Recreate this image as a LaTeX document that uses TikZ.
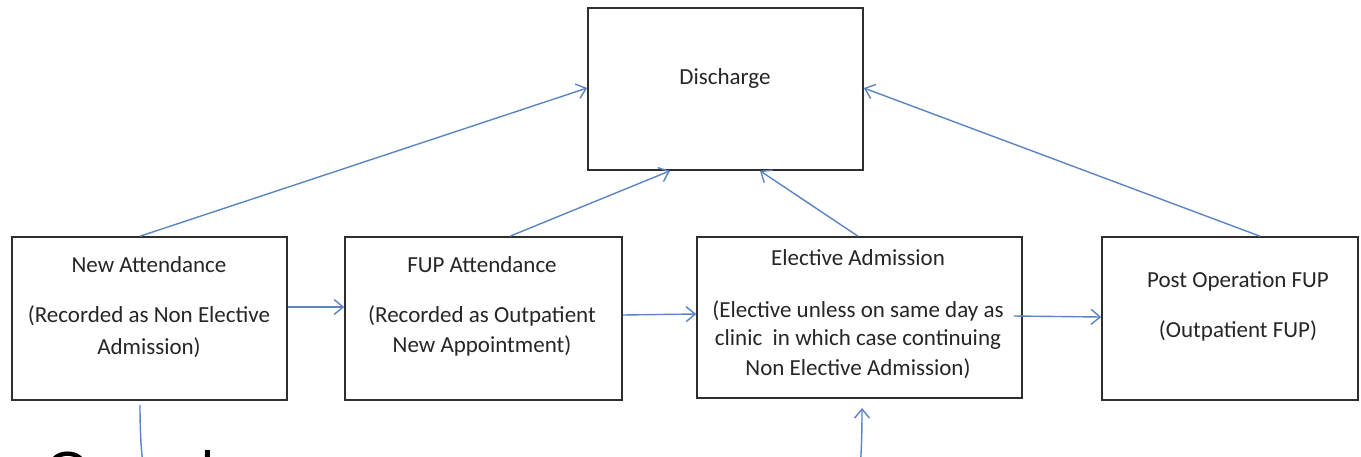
\documentclass[tikz,border=0pt]{standalone}
\usepackage{fontspec}
\setmainfont{Carlito}
\newfontfamily\arialfont{Liberation Sans}
\usetikzlibrary{arrows.meta}
\definecolor{conn}{HTML}{5A84C2}
\definecolor{boxline}{HTML}{2E2E2E}
\definecolor{txt}{HTML}{262626}
\begin{document}
\begin{tikzpicture}[x=1pt,y=1pt,
  box/.style={draw=boxline, line width=1.6pt, fill=white, inner sep=0pt, rectangle},
  lbl/.style={anchor=base, inner sep=0pt, text=txt, font=\fontsize{23}{31}\selectfont},
  arr/.style={draw=conn, line width=1.4pt, -{Straight Barb[length=9pt,width=15pt,line width=1.4pt]}},
  big/.style={anchor=base west, inner sep=0pt, font=\arialfont\fontsize{58}{60}\selectfont}]
\useasboundingbox (0,0) rectangle (1361,-456);
\clip (0,0) rectangle (1361,-456);
% boxes
\node[box, minimum width=275, minimum height=162] (dis) at (725.5,-89) {};
\node[box, minimum width=275, minimum height=163] (na) at (149.5,-318.5) {};
\node[box, minimum width=277, minimum height=163] (fup) at (483.5,-318.5) {};
\node[box, minimum width=325, minimum height=161] (ea) at (859.5,-317.5) {};
\node[box, minimum width=256, minimum height=163] (post) at (1230,-318.5) {};
% texts
\node[lbl] (t0) at (725,-84) {Discharge};
\node[lbl] (t1) at (149,-272) {New Attendance};
\node[lbl] (t2) at (149,-322) {(Recorded as Non Elective};
\node[lbl] (t3) at (149,-354) {Admission)};
\node[lbl] (t4) at (482,-272) {FUP Attendance};
\node[lbl] (t5) at (482,-322) {(Recorded as Outpatient};
\node[lbl] (t6) at (482,-352) {New Appointment)};
\node[lbl] (t7) at (858,-265) {Elective Admission};
\node[lbl] (t8) at (858,-317) {(Elective unless on same day as};
\node[lbl] (t9) at (858,-345) {clinic\ \ in which case continuing};
\node[lbl] (t10) at (858,-375) {Non Elective Admission)};
\node[lbl] (t11) at (1238,-287) {Post Operation FUP};
\node[lbl] (t12) at (1238,-337) {(Outpatient FUP)};
% horizontal connectors
\draw[arr] ([yshift=11.5]na.east) -- ([yshift=11.5]fup.west);
\draw[arr] ([yshift=3.5]fup.east) -- ([yshift=3.5]ea.west);
\draw[arr] ([xshift=-9,yshift=1.5]ea.east) -- ([yshift=1.5]post.west);
% to discharge
\draw[arr] ([xshift=-9.5]na.north) -- ([yshift=1]dis.west);
\draw[arr] ([xshift=26.5]fup.north) -- ([xshift=-55.5]dis.south);
\draw[arr] ([xshift=-1.5]ea.north) -- ([xshift=34.5]dis.south);
\draw[arr] ([xshift=30]post.north) -- ([yshift=1]dis.east);
% bottom curved connector
\coordinate (c1) at (140,-405);
\coordinate (c2) at (862,-408);
\draw[arr] (c1) .. controls (140,-530) and (165,-570) .. (320,-570) -- (690,-570) .. controls (850,-570) and (862,-530) .. (c2);
% cropped large text fragments
\node[big] (bo) at (45,-492) {O};
\node[big] (bl) at (201,-492) {l};
\end{tikzpicture}
\end{document}
